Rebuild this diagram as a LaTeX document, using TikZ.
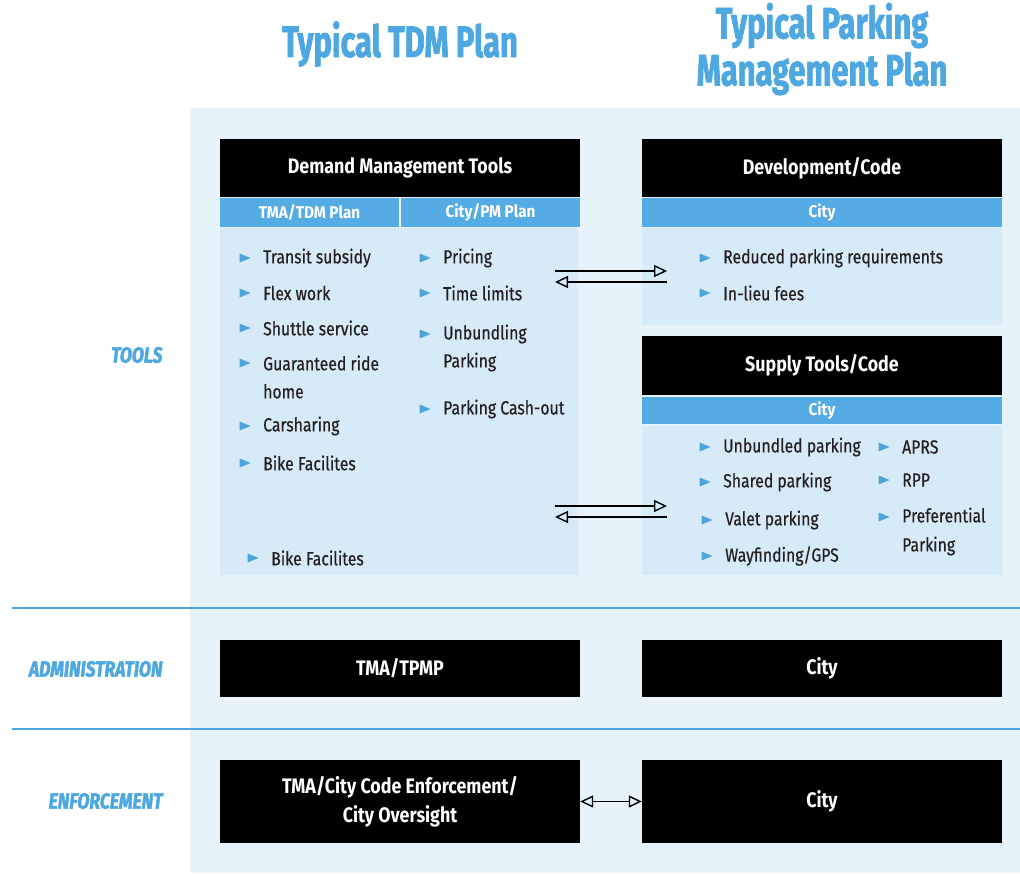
\documentclass[tikz,border=0pt]{standalone}
\usepackage{fontspec}
\usetikzlibrary{arrows.meta}
\setmainfont{Fira Sans}[FakeStretch=0.83]
\newfontfamily\conditem{Fira Sans}[FakeStretch=0.83, FakeBold=0.4]
\newfontfamily\condhdr{Fira Sans}[FakeStretch=0.85]
\newfontfamily\condbar{Fira Sans}[FakeStretch=0.9]
\newfontfamily\condtitle{Fira Sans}[FakeStretch=0.7, BoldFeatures={FakeBold=1.6}]
\newfontfamily\condlabel{Fira Sans}[FakeStretch=0.8, BoldItalicFeatures={FakeBold=2}]
\definecolor{tblue}{HTML}{4DA8E2}
\definecolor{barblue}{HTML}{55ABE3}
\definecolor{panelc}{HTML}{E7F3FB}
\definecolor{contentc}{HTML}{D6EAF7}
\definecolor{bulletc}{HTML}{4BA5DA}
\definecolor{txt}{HTML}{231F20}
\newcommand\itemfont{\conditem\fontsize{19}{28}\selectfont}
\newcommand\hdrfont{\condhdr\bfseries\fontsize{21}{29}\selectfont}
\newcommand\barfont{\condbar\bfseries\fontsize{17}{20}\selectfont}
\newcommand\bulitem[4]{%
  \fill[bulletc] (#2-5.5,#3-4.5) -- (#2+5.5,#3) -- (#2-5.5,#3+4.5) -- cycle;
  \node[itemtxt] (#1) at (#2+18,#3) {#4};}
\tikzset{
  blackbox/.style={fill=black, text=white, font=\hdrfont, minimum width=360pt, inner sep=0pt, align=center},
  barbox/.style={fill=barblue, text=white, font=\barfont, inner sep=0pt},
  itemtxt/.style={anchor=west, inner sep=0pt, text=txt, font=\itemfont, align=left},
  titletxt/.style={text=tblue, font=\condtitle\bfseries\fontsize{44}{47}\selectfont, align=center},
  rowlabel/.style={anchor=east, text=tblue, font=\condlabel\bfseries\itshape\fontsize{22}{24}\selectfont},
  sepline/.style={draw=tblue, line width=1.8pt},
  link/.style={line width=1.4pt, -{Triangle[open, length=13pt, width=12pt]}},
  dlink/.style={line width=1.4pt, {Triangle[open, length=13pt, width=12pt]}-{Triangle[open, length=13pt, width=12pt]}},
}
\begin{document}
\begin{tikzpicture}[x=1pt, y=-1pt]
\useasboundingbox (0,0) rectangle (1020,873);
\fill[white] (0,0) rectangle (1020,873);
% background panel
\fill[panelc] (190,108) rectangle (1020,873);
% separator lines
\draw[sepline] (12,608) -- (1020,608);
\draw[sepline] (12,729) -- (1020,729);
% titles
\node[titletxt] (t1) at (400,44) {Typical TDM Plan};
\node[titletxt] (t2) at (822,49) {Typical Parking\\Management Plan};
% row labels
\node[rowlabel] (ltools) at (166,355) {TOOLS};
\node[rowlabel] (ladmin) at (166,669) {ADMINISTRATION};
\node[rowlabel] (lenf) at (166,801) {ENFORCEMENT};
% content areas
\fill[contentc] (220,228) rectangle (578,575);
\fill[contentc] (642,228) rectangle (1002,325);
\fill[contentc] (642,426) rectangle (1002,575);
% black headers
\node[blackbox, minimum height=58pt] (dmt) at (400,168) {Demand Management Tools};
\node[blackbox, minimum height=58pt] (dev) at (822,168) {Development/Code};
\node[blackbox, minimum height=59pt] (sup) at (822,365.5) {Supply Tools/Code};
% blue bars
\node[barbox, minimum width=179pt, minimum height=29pt] (b1) at (309.5,212.5) {TMA/TDM Plan};
\node[barbox, minimum width=179pt, minimum height=29pt] (b2) at (490.5,212.5) {City/PM Plan};
\node[barbox, minimum width=360pt, minimum height=29pt] (b3) at (822,212.5) {City};
\node[barbox, minimum width=360pt, minimum height=27pt] (b4) at (822,410.5) {City};
% left column items
\bulitem{i1}{245}{258}{Transit subsidy}
\bulitem{i2}{245}{293}{Flex work}
\bulitem{i3}{245}{328}{Shuttle service}
\fill[bulletc] (239.5,358.5) -- (250.5,363) -- (239.5,367.5) -- cycle;
\node[itemtxt] (i4) at (263,377) {Guaranteed ride\\home};
\bulitem{i5}{245}{426}{Carsharing}
\bulitem{i6}{245}{463}{Bike Facilites}
\bulitem{i7}{253}{558}{Bike Facilites}
% middle column items
\bulitem{m1}{425}{258}{Pricing}
\bulitem{m2}{425}{293}{Time limits}
\fill[bulletc] (419.5,329.5) -- (430.5,334) -- (419.5,338.5) -- cycle;
\node[itemtxt] (m3) at (443,348) {Unbundling\\Parking};
\bulitem{m4}{425}{409}{Parking Cash-out}
% development items
\bulitem{d1}{705}{258}{Reduced parking requirements}
\bulitem{d2}{705}{293}{In-lieu fees}
% supply items
\bulitem{s1}{705}{447}{Unbundled parking}
\bulitem{s2}{705}{482}{Shared parking}
\bulitem{s3}{707}{520}{Valet parking}
\bulitem{s4}{707}{556}{Wayfinding/GPS}
\bulitem{s5}{884}{447}{APRS}
\bulitem{s6}{884}{480}{RPP}
\fill[bulletc] (878.5,512.5) -- (889.5,517) -- (878.5,521.5) -- cycle;
\node[itemtxt, font=\conditem\fontsize{19}{29}\selectfont] (s7) at (902,531.5) {Preferential\\Parking};
% admin
\node[blackbox, minimum height=57pt] (adm1) at (400,668.5) {TMA/TPMP};
\node[blackbox, minimum height=57pt] (adm2) at (822,668.5) {City};
% enforcement
\node[blackbox, minimum height=83pt] (enf1) at (400,801.5) {TMA/City Code Enforcement/\\City Oversight};
\node[blackbox, minimum height=83pt] (enf2) at (822,801.5) {City};
% arrows between tools
\coordinate (u1a) at (555,271); \coordinate (u1b) at (667,271);
\coordinate (u2a) at (667,282); \coordinate (u2b) at (555,282);
\coordinate (l1a) at (555,506); \coordinate (l1b) at (667,506);
\coordinate (l2a) at (667,517); \coordinate (l2b) at (555,517);
\draw[link] (u1a) -- (u1b);
\draw[link] (u2a) -- (u2b);
\draw[link] (l1a) -- (l1b);
\draw[link] (l2a) -- (l2b);
\draw[dlink] (enf1.east) -- (enf2.west);
\end{tikzpicture}
\end{document}
